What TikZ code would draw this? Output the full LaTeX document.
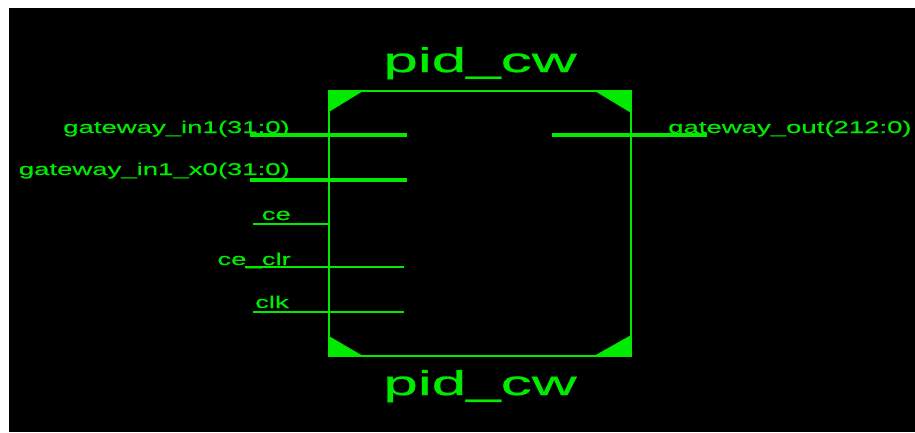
\documentclass[tikz,border=0pt]{standalone}
\usepackage{fontspec}
\setmainfont{Liberation Sans}
\newfontfamily\pinfont[FakeStretch=1.62,FakeBold=0.6]{Liberation Sans}
\newfontfamily\titlefont[FakeStretch=1.8,FakeBold=0.8]{Liberation Sans}
\definecolor{schgreen}{RGB}{0,235,0}
\begin{document}
\begin{tikzpicture}[
    x=1pt, y=-1pt,
    % Estilos del bloque
    block/.style={rectangle, draw=schgreen, line width=1.4pt, minimum width=302pt, minimum height=265pt, inner sep=0pt},
    title/.style={text=schgreen, font=\titlefont\fontsize{34.5}{38}\selectfont, inner sep=0pt},
    pinlabel/.style={text=schgreen, font=\pinfont\fontsize{17}{19}\selectfont, inner sep=0pt},
    bus/.style={-, line width=3.6pt, draw=schgreen},
    wire/.style={-, line width=1.3pt, draw=schgreen},
    corner/.style={fill=schgreen}
]

% --- FONDO ---
\useasboundingbox (0,0) rectangle (915,432);
\fill[white] (0,0) rectangle (915,432);
\fill[black] (9,8) rectangle (915,432);

% --- BLOQUE PRINCIPAL ---
\node[block] (blk) at (480,223.5) {};

\fill[corner] (blk.north west) -- ++(36,0) -- ++(-36,22) -- cycle;
\fill[corner] (blk.north east) -- ++(-38,0) -- ++(38,23) -- cycle;
\fill[corner] (blk.south west) -- ++(36,0) -- ++(-36,-21) -- cycle;
\fill[corner] (blk.south east) -- ++(-39,0) -- ++(39,-22) -- cycle;

\node[title, anchor=base] (ttop) at (480,72) {pid\_cw};
\node[title, anchor=base] (tbot) at (480,395) {pid\_cw};

% --- ENTRADAS ---
\coordinate (in1a) at (250,135);
\coordinate (in1b) at (407,135);
\coordinate (in2a) at (250,180);
\coordinate (in2b) at (407,180);
\coordinate (cea) at (253,224);
\coordinate (ceb) at (blk.west |- cea);
\coordinate (clra) at (245,267);
\coordinate (clrb) at (404,267);
\coordinate (clka) at (253,312);
\coordinate (clkb) at (404,312);

\draw[bus] (in1a) -- (in1b);
\draw[bus] (in2a) -- (in2b);
\draw[wire] (cea) -- (ceb);
\draw[wire] (clra) -- (clrb);
\draw[wire] (clka) -- (clkb);

\node[pinlabel, anchor=base east] (lin1) at (290,133) {gateway\_in1(31:0)};
\node[pinlabel, anchor=base east] (lin2) at (290,175) {gateway\_in1\_x0(31:0)};
\node[pinlabel, anchor=base east] (lce) at (291,220) {ce};
\node[pinlabel, anchor=base east] (lclr) at (291,265) {ce\_clr};
\node[pinlabel, anchor=base east] (lclk) at (289,308) {clk};

% --- SALIDA ---
\coordinate (outa) at (552,135);
\coordinate (outb) at (707,135);
\draw[bus] (outa) -- (outb);

\node[pinlabel, anchor=base west] (lout) at (668,133) {gateway\_out(212:0)};

\end{tikzpicture}
\end{document}
